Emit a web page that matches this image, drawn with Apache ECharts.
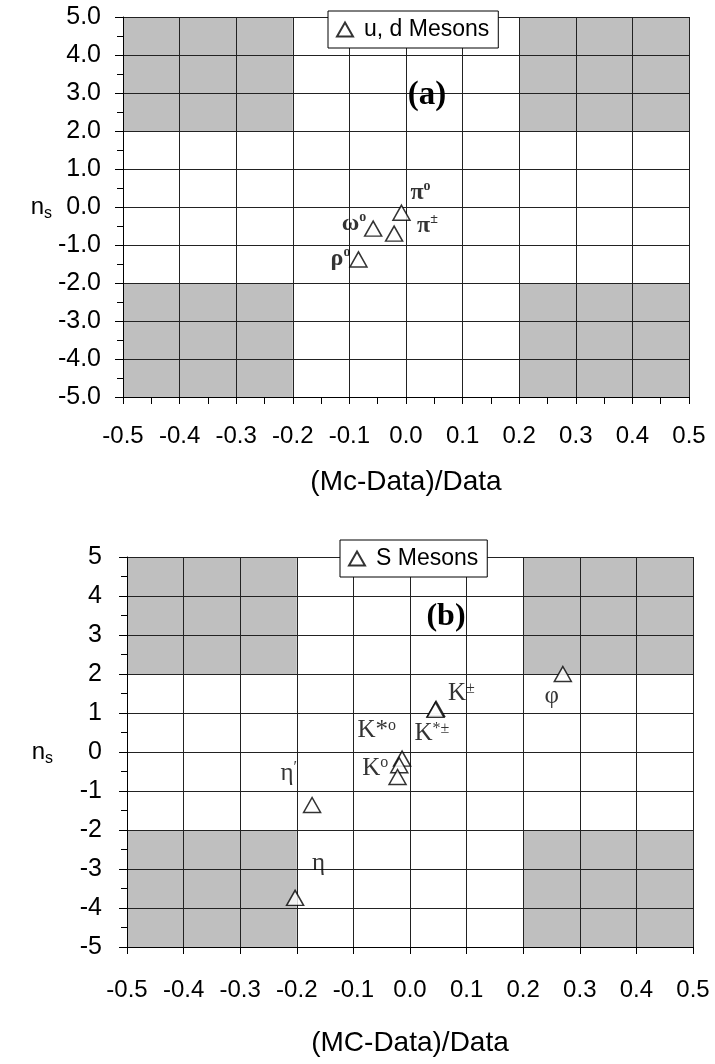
<!DOCTYPE html>
<html>
<head>
<meta charset="utf-8">
<script src="https://cdn.jsdelivr.net/npm/echarts@6/dist/echarts.min.js"></script>
<style>
html,body{margin:0;padding:0;background:#fff;}
#main{width:715px;height:1064px;}
</style>
</head>
<body>
<div id="main"></div>
<script>
// (a) u, d mesons
var udNames = ['pi0', 'pipm', 'omega0', 'rho0'];
var udX = [-0.008, -0.021, -0.058, -0.084];
var udY = [-0.15, -0.70, -0.57, -1.38];

// (b) s mesons
var sNames = ['Kpm', 'Kstarpm', 'Kstar0', 'K0', 'K0b', 'phi', 'etaprime', 'eta'];
var sX = [0.046, 0.045, -0.014, -0.019, -0.022, 0.27, -0.173, -0.203];
var sY = [1.11, 1.08, -0.17, -0.34, -0.64, 2.0, -1.36, -3.74];

// shaded regions
var boxX0 = [-0.5, 0.2, -0.5, 0.2];
var boxX1 = [-0.2, 0.5, -0.2, 0.5];
var boxY0 = [2, 2, -5, -5];
var boxY1 = [5, 5, -2, -2];

var labelText = {
    pi0: '{m|π}{sup|o}',
    pipm: '{m|π}{sup|±}',
    omega0: '{m|ω}{sup|o}',
    rho0: '{m|ρ}{sup|o}',
    Kpm: '{m|K}{sup|±}',
    Kstarpm: '{m|K}{sup|*±}',
    Kstar0: '{m|K*}{sup|o}',
    K0: '{m|K}{sup|o}',
    K0b: '',
    phi: '{m|φ}',
    etaprime: '{m|η}{sup|′}',
    eta: '{m|η}'
};
// label placement relative to marker centre
var labelPlace = {
    pi0: ['left', 9, -20],
    pipm: ['left', 23, -8],
    omega0: ['right', -7, -5],
    rho0: ['right', -8, -1],
    Kpm: ['left', 12, -15],
    Kstarpm: ['left', -21, 24],
    Kstar0: ['right', -6, -28],
    K0: ['right', -11, 3],
    K0b: ['left', 0, 0],
    phi: ['center', -11, 22],
    etaprime: ['right', -15, -32],
    eta: ['left', 17, -34]
};

var SANS = '"Liberation Sans", Arial, sans-serif';
var SERIF = '"Liberation Serif", "Times New Roman", serif';

function pointData(names, xs, ys, bold) {
    var out = [];
    var fs = bold ? 24 : 25;
    var fw = bold ? 'bold' : 'normal';
    for (var i = 0; i < names.length; i++) {
        var p = labelPlace[names[i]];
        out.push({
            name: names[i],
            value: [xs[i], ys[i]],
            label: {
                show: labelText[names[i]] !== '',
                position: 'inside',
                align: p[0],
                verticalAlign: 'middle',
                offset: [p[1], p[2]],
                formatter: labelText[names[i]],
                color: '#000',
                fontSize: fs,
                fontWeight: fw,
                fontFamily: SERIF,
                rich: {
                    m: {fontSize: fs, fontWeight: fw, fontFamily: SERIF, color: '#000', lineHeight: 26},
                    sup: {fontSize: bold ? 14 : 16, fontWeight: fw, fontFamily: SERIF, color: '#000', verticalAlign: 'top', lineHeight: 26}
                }
            }
        });
    }
    return out;
}

function boxData() {
    var out = [];
    for (var i = 0; i < boxX0.length; i++) {
        out.push([boxX0[i], boxY0[i], boxX1[i], boxY1[i]]);
    }
    return out;
}

function boxSeries(idx) {
    return {
        type: 'custom',
        xAxisIndex: idx,
        yAxisIndex: idx,
        z: 0,
        silent: true,
        data: boxData(),
        encode: {x: [0, 2], y: [1, 3]},
        renderItem: function (params, api) {
            var p0 = api.coord([api.value(0), api.value(1)]);
            var p1 = api.coord([api.value(2), api.value(3)]);
            return {
                type: 'rect',
                shape: {
                    x: Math.min(p0[0], p1[0]),
                    y: Math.min(p0[1], p1[1]),
                    width: Math.abs(p1[0] - p0[0]),
                    height: Math.abs(p1[1] - p0[1])
                },
                style: {fill: '#bfbfbf'}
            };
        }
    };
}

function fmt1(v) {
    if (Math.abs(v) < 1e-9) return '0.0';
    return v.toFixed(1);
}

function xAxisOf(idx, name, minor, margin, gap) {
    return {
        type: 'value',
        gridIndex: idx,
        min: -0.5,
        max: 0.5,
        interval: 0.1,
        z: 1,
        name: name,
        nameLocation: 'middle',
        nameGap: gap,
        nameTextStyle: {fontSize: 28, fontFamily: SANS, color: '#000'},
        axisLine: {show: true, onZero: false, lineStyle: {color: '#000', width: 1}},
        axisTick: {show: true, length: 7, lineStyle: {color: '#000'}},
        minorTick: {show: minor, splitNumber: 2, length: 7, lineStyle: {color: '#000'}},
        axisLabel: {formatter: fmt1, fontSize: 24, fontFamily: SANS, color: '#000', margin: margin, showMinLabel: true, showMaxLabel: true},
        splitLine: {show: true, lineStyle: {color: '#222', width: 1}}
    };
}

function yAxisOf(idx, decimals, margin, gap) {
    return {
        type: 'value',
        gridIndex: idx,
        min: -5,
        max: 5,
        interval: 1,
        z: 1,
        name: '{n|n}{s|s}',
        nameLocation: 'middle',
        nameRotate: 0,
        nameGap: gap,
        nameTextStyle: {
            rich: {
                n: {fontSize: 24, fontFamily: SANS, color: '#000', lineHeight: 30},
                s: {fontSize: 16, fontFamily: SANS, color: '#000', verticalAlign: 'bottom', lineHeight: 30}
            }
        },
        axisLine: {show: true, onZero: false, lineStyle: {color: '#000', width: 1}},
        axisTick: {show: true, length: 8, lineStyle: {color: '#000'}},
        minorTick: {show: true, splitNumber: 2, length: 6, lineStyle: {color: '#000'}},
        axisLabel: {
            formatter: decimals ? fmt1 : function (v) { return String(Math.round(v)); },
            fontSize: 25, fontFamily: SANS, color: '#000', margin: margin
        },
        splitLine: {show: true, lineStyle: {color: '#222', width: 1}}
    };
}

function legendOf(name, left, top) {
    return {
        data: [name],
        left: left,
        top: top,
        selectedMode: false,
        backgroundColor: '#fff',
        borderColor: '#000',
        borderWidth: 1,
        padding: [7, 9, 7, 8],
        itemWidth: 16,
        itemHeight: 14,
        z: 5,
        textStyle: {fontSize: 23, fontFamily: SANS, color: '#000', padding: [0, 0, 0, 6]}
    };
}

var markerStyle = {color: '#fff', borderColor: '#000', borderWidth: 1.5};

var chart = echarts.init(document.getElementById('main'));
var option = {
    backgroundColor: '#fff',
    animation: false,
    grid: [
        {left: 123, top: 17, width: 566, height: 380},
        {left: 127, top: 557, width: 566, height: 390}
    ],
    xAxis: [
        xAxisOf(0, '(Mc-Data)/Data', true, 27, 71),
        xAxisOf(1, '(MC-Data)/Data', false, 31, 82)
    ],
    yAxis: [
        yAxisOf(0, true, 22, 70),
        yAxisOf(1, false, 25, 74)
    ],
    legend: [
        legendOf('u, d Mesons', 328, 11),
        legendOf('S Mesons', 340, 540)
    ],
    graphic: [
        {type: 'text', x: 427, y: 95, z: 10, style: {text: '(a)', fontSize: 33, fontWeight: 'bold', fontFamily: SERIF, fill: '#000', align: 'center', verticalAlign: 'middle'}},
        {type: 'text', x: 446, y: 617, z: 10, style: {text: '(b)', fontSize: 32, fontWeight: 'bold', fontFamily: SERIF, fill: '#000', align: 'center', verticalAlign: 'middle'}}
    ],
    series: [
        boxSeries(0),
        boxSeries(1),
        {
            name: 'u, d Mesons',
            type: 'scatter',
            xAxisIndex: 0,
            yAxisIndex: 0,
            z: 3,
            symbol: 'triangle',
            symbolSize: [17, 15],
            itemStyle: markerStyle,
            data: pointData(udNames, udX, udY, true)
        },
        {
            name: 'S Mesons',
            type: 'scatter',
            xAxisIndex: 1,
            yAxisIndex: 1,
            z: 3,
            symbol: 'triangle',
            symbolSize: [17, 15],
            itemStyle: markerStyle,
            data: pointData(sNames, sX, sY, false)
        }
    ]
};
chart.setOption(option);
</script>
</body>
</html>
